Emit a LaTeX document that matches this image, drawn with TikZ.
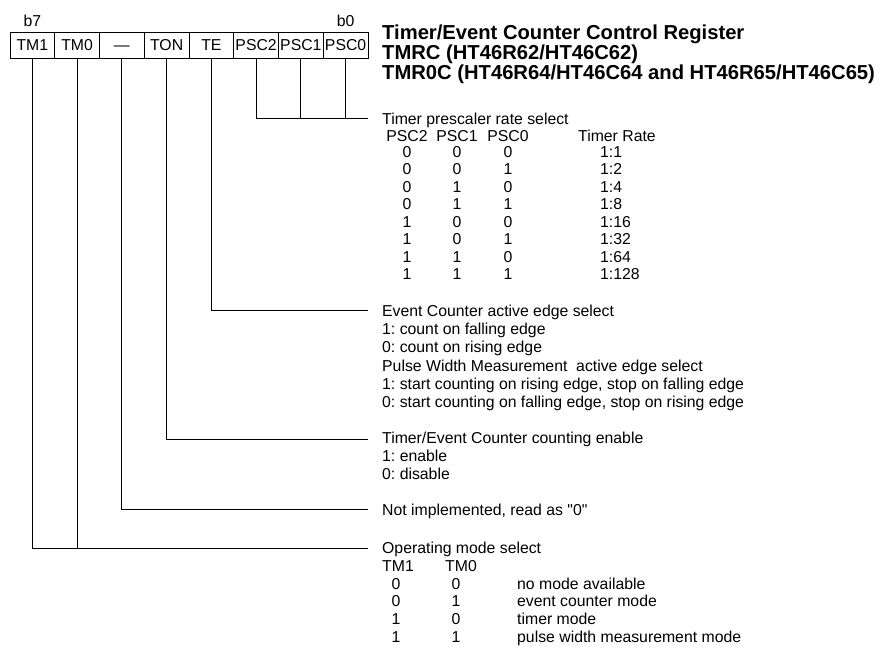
\documentclass[tikz,border=0pt]{standalone}
\usepackage{fontspec}
\setmainfont{Liberation Sans}[Ligatures=TeXOff]
\usetikzlibrary{positioning}

\newcommand{\bodyfont}{\fontsize{15.8}{18}\selectfont}
\newcommand{\headfont}{\fontsize{20.2}{20}\selectfont\bfseries}
\frenchspacing

\begin{document}
\begin{tikzpicture}[x=1pt,y=-1pt,
    bitbox/.style={draw,line width=0.9pt,minimum width=44.75pt,minimum height=26pt,inner sep=0pt,
      text height=11.3pt,text depth=0pt,font=\bodyfont},
    desc/.style={anchor=base west,inner sep=0pt,font=\bodyfont},
    num/.style={anchor=base,inner sep=0pt,font=\bodyfont},
    lead/.style={line width=0.9pt}]
  \useasboundingbox (0,0) rectangle (880,648);

  % the register, b7 on the left
  \foreach \lbl [count=\i] in {TM1,TM0,—,TON,TE,PSC2,PSC1,PSC0}
    \node[bitbox] (bit\i) at ({10+44.75*(\i-0.5)},45.3) {\lbl};
  \node[font=\bodyfont,inner sep=0pt,above=5pt of bit1] (bhi) {b7};
  \node[font=\bodyfont,inner sep=0pt,above=5pt of bit8] (blo) {b0};

  \node[desc,font=\headfont] (head1) at (382,39) {Timer/Event Counter Control Register};
  \node[desc,font=\headfont] (head2) at (382,59) {TMRC (HT46R62/HT46C62)};
  \node[desc,font=\headfont] (head3) at (382,79) {TMR0C (HT46R64/HT46C64 and HT46R65/HT46C65)};

  % leads from the bits
  \coordinate (pscend) at (367.5,118);
  \coordinate (teend) at (367.5,310);
  \coordinate (tonend) at (367.5,439);
  \coordinate (nullend) at (367.5,509.3);
  \coordinate (modeend) at (367.5,548.3);
  \draw[lead] (bit6.south) |- (pscend);
  \draw[lead] (bit7.south) -- (bit7 |- pscend);
  \draw[lead] (bit8.south) -- (bit8 |- pscend);
  \draw[lead] (bit5.south) |- (teend);
  \draw[lead] (bit4.south) |- (tonend);
  \draw[lead] (bit3.south) |- (nullend);
  \draw[lead] (bit1.south) |- (modeend);
  \draw[lead] (bit2.south) -- (bit2 |- modeend);

  % prescaler
  \node[desc] (psctitle) at (382,124) {Timer prescaler rate select};
  \foreach \hd/\xx [count=\i] in {PSC2/407,PSC1/457,PSC0/508}
    \node[num] (pschd\i) at (\xx,141.7) {\hd};
  \node[desc] (ratehd) at (578,141.7) {Timer Rate};
  \foreach \a/\b/\c/\r [count=\k from 0] in {0/0/0/1:1,0/0/1/1:2,0/1/0/1:4,0/1/1/1:8,
      1/0/0/1:16,1/0/1/1:32,1/1/0/1:64,1/1/1/1:128}
  {
    \node[num] (psa\k) at (407,{157.5+17.45*\k}) {\a};
    \node[num] (psb\k) at (457,{157.5+17.45*\k}) {\b};
    \node[num] (psc\k) at (508,{157.5+17.45*\k}) {\c};
    \node[desc] (rate\k) at (600,{157.5+17.45*\k}) {\r};
  }

  % edge select
  \foreach \txt [count=\k from 0] in {Event Counter active edge select,
      1: count on falling edge, 0: count on rising edge,
      Pulse Width Measurement\ \ active edge select,
      {1: start counting on rising edge, stop on falling edge},
      {0: start counting on falling edge, stop on rising edge}}
    \node[desc] (te\k) at (382,{316.3+18.26*\k}) {\txt};

  % counting enable
  \foreach \txt [count=\k from 0] in {Timer/Event Counter counting enable, 1: enable, 0: disable}
    \node[desc] (ton\k) at (382,{443.7+18*\k}) {\txt};

  \node[desc] (nullnote) at (382,515.7) {Not implemented, read as "0"};

  % operating mode
  \node[desc] (modetitle) at (382,553.7) {Operating mode select};
  \node[desc] (tmhd1) at (382,571.4) {TM1};
  \node[desc] (tmhd0) at (445,571.4) {TM0};
  \foreach \a/\b/\m [count=\k from 0] in {0/0/no mode available,0/1/event counter mode,
      1/0/timer mode,1/1/pulse width measurement mode}
  {
    \node[num] (tma\k) at (396,{589.1+17.7*\k}) {\a};
    \node[num] (tmb\k) at (456,{589.1+17.7*\k}) {\b};
    \node[desc] (mode\k) at (517,{589.1+17.7*\k}) {\m};
  }
\end{tikzpicture}
\end{document}
